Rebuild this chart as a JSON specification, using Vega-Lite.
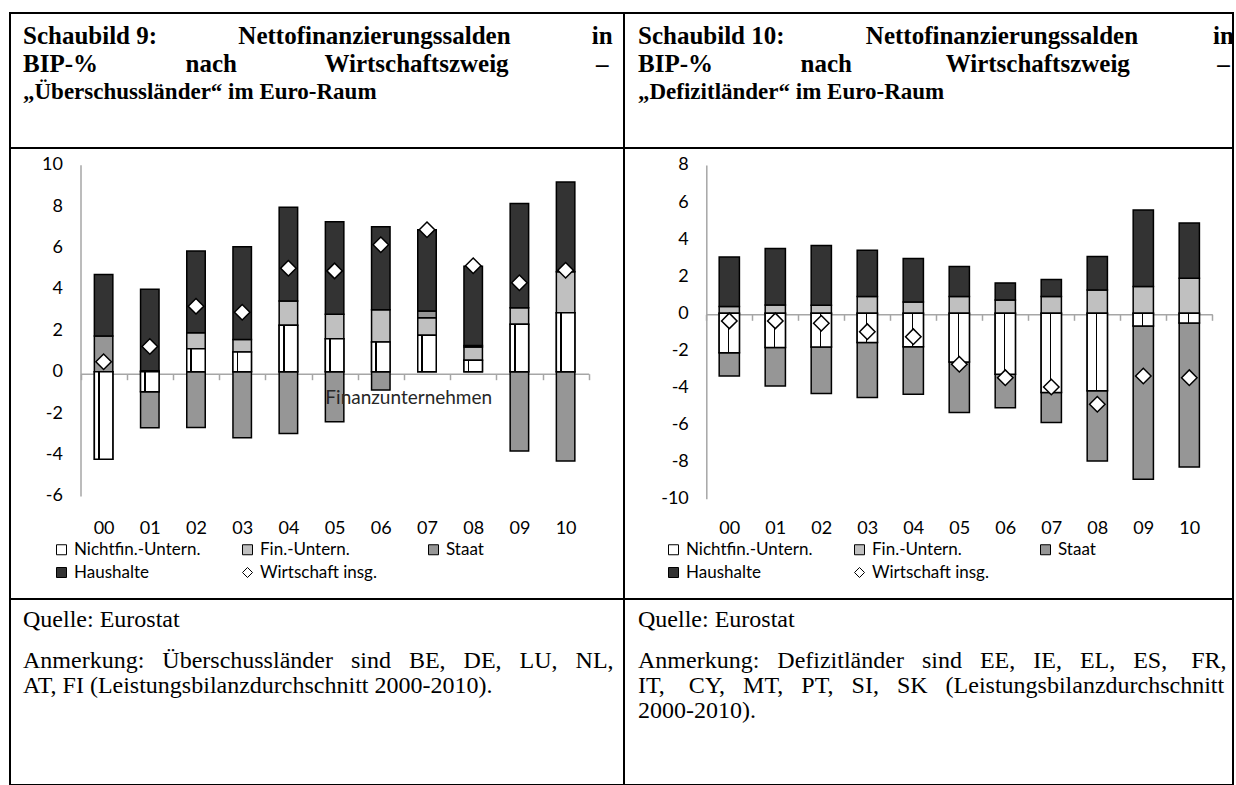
{
  "$schema": "https://vega.github.io/schema/vega-lite/v6.json",
  "background": "#ffffff",
  "padding": {"left": 9, "top": 12, "right": 3, "bottom": 0},
  "columns": 2,
  "spacing": 0,
  "bounds": "flush",
  "resolve": {"scale": {"color": "independent"}, "legend": {"color": "independent"}},
  "config": {
    "view": {"stroke": "#000000", "strokeWidth": 2},
    "concat": {"spacing": 0},
    "font": "Lato"
  },
  "concat": [
    {
      "width": 614,
      "height": 135,
      "data": {"values": [
        {"line": "1", "text": "Schaubild 9:\u00a0\u00a0\u00a0\u00a0\u00a0\u00a0\u00a0\u00a0\u00a0\u00a0\u00a0\u00a0\u00a0Nettofinanzierungssalden\u00a0\u00a0\u00a0\u00a0\u00a0\u00a0\u00a0\u00a0\u00a0\u00a0\u00a0\u00a0\u00a0in"},
        {"line": "2", "text": "BIP-%\u00a0\u00a0\u00a0\u00a0\u00a0\u00a0\u00a0\u00a0\u00a0\u00a0\u00a0\u00a0\u00a0\u00a0nach\u00a0\u00a0\u00a0\u00a0\u00a0\u00a0\u00a0\u00a0\u00a0\u00a0\u00a0\u00a0\u00a0\u00a0Wirtschaftszweig\u00a0\u00a0\u00a0\u00a0\u00a0\u00a0\u00a0\u00a0\u00a0\u00a0\u00a0\u00a0\u00a0\u00a0–"},
        {"line": "3", "text": "„Überschussländer“ im Euro-Raum"}
      ]},
      "encoding": {
        "x": {"datum": 0, "type": "quantitative", "scale": {"domain": [0, 1]}, "axis": null},
        "y": {"field": "line", "type": "ordinal", "scale": {"type": "point", "domain": ["1", "2", "3"], "range": [31, 86], "padding": 0}, "axis": null},
        "text": {"field": "text"}
      },
      "layer": [
        {
          "transform": [{"filter": "datum.line !== '3'"}],
          "mark": {"type": "text", "align": "left", "baseline": "alphabetic", "font": "Liberation Serif", "fontWeight": "bold", "fontSize": 25, "color": "#000000", "dx": 13}
        },
        {
          "transform": [{"filter": "datum.line === '3'"}],
          "mark": {"type": "text", "align": "left", "baseline": "alphabetic", "font": "Liberation Serif", "fontWeight": "bold", "fontSize": 23, "color": "#000000", "dx": 13}
        }
      ]
    },
    {
      "width": 609,
      "height": 135,
      "data": {"values": [
        {"line": "1", "text": "Schaubild 10:\u00a0\u00a0\u00a0\u00a0\u00a0\u00a0\u00a0\u00a0\u00a0\u00a0\u00a0\u00a0\u00a0Nettofinanzierungssalden\u00a0\u00a0\u00a0\u00a0\u00a0\u00a0\u00a0\u00a0\u00a0\u00a0\u00a0\u00a0in"},
        {"line": "2", "text": "BIP-%\u00a0\u00a0\u00a0\u00a0\u00a0\u00a0\u00a0\u00a0\u00a0\u00a0\u00a0\u00a0\u00a0\u00a0nach\u00a0\u00a0\u00a0\u00a0\u00a0\u00a0\u00a0\u00a0\u00a0\u00a0\u00a0\u00a0\u00a0\u00a0\u00a0Wirtschaftszweig\u00a0\u00a0\u00a0\u00a0\u00a0\u00a0\u00a0\u00a0\u00a0\u00a0\u00a0\u00a0\u00a0\u00a0–"},
        {"line": "3", "text": "„Defizitländer“ im Euro-Raum"}
      ]},
      "encoding": {
        "x": {"datum": 0, "type": "quantitative", "scale": {"domain": [0, 1]}, "axis": null},
        "y": {"field": "line", "type": "ordinal", "scale": {"type": "point", "domain": ["1", "2", "3"], "range": [31, 86], "padding": 0}, "axis": null},
        "text": {"field": "text"}
      },
      "layer": [
        {
          "transform": [{"filter": "datum.line !== '3'"}],
          "mark": {"type": "text", "align": "left", "baseline": "alphabetic", "font": "Liberation Serif", "fontWeight": "bold", "fontSize": 25, "color": "#000000", "dx": 14}
        },
        {
          "transform": [{"filter": "datum.line === '3'"}],
          "mark": {"type": "text", "align": "left", "baseline": "alphabetic", "font": "Liberation Serif", "fontWeight": "bold", "fontSize": 23, "color": "#000000", "dx": 14}
        }
      ]
    },
    {
      "width": 614,
      "height": 451,
      "data": {"values": [
        {"year": "00", "series": "Nichtfin.-Untern.", "value": -4.23},
        {"year": "00", "series": "Staat", "value": 1.72},
        {"year": "00", "series": "Haushalte", "value": 2.98},
        {"year": "00", "series": "Wirtschaft insg.", "value": 0.48},
        {"year": "01", "series": "Nichtfin.-Untern.", "value": -0.97},
        {"year": "01", "series": "Fin.-Untern.", "value": 0.05},
        {"year": "01", "series": "Staat", "value": -1.74},
        {"year": "01", "series": "Haushalte", "value": 3.93},
        {"year": "01", "series": "Wirtschaft insg.", "value": 1.22},
        {"year": "02", "series": "Nichtfin.-Untern.", "value": 1.11},
        {"year": "02", "series": "Fin.-Untern.", "value": 0.77},
        {"year": "02", "series": "Staat", "value": -2.70},
        {"year": "02", "series": "Haushalte", "value": 3.95},
        {"year": "02", "series": "Wirtschaft insg.", "value": 3.16},
        {"year": "03", "series": "Nichtfin.-Untern.", "value": 0.95},
        {"year": "03", "series": "Fin.-Untern.", "value": 0.61},
        {"year": "03", "series": "Staat", "value": -3.19},
        {"year": "03", "series": "Haushalte", "value": 4.48},
        {"year": "03", "series": "Wirtschaft insg.", "value": 2.87},
        {"year": "04", "series": "Nichtfin.-Untern.", "value": 2.25},
        {"year": "04", "series": "Fin.-Untern.", "value": 1.16},
        {"year": "04", "series": "Staat", "value": -2.98},
        {"year": "04", "series": "Haushalte", "value": 4.54},
        {"year": "04", "series": "Wirtschaft insg.", "value": 5.00},
        {"year": "05", "series": "Nichtfin.-Untern.", "value": 1.59},
        {"year": "05", "series": "Fin.-Untern.", "value": 1.18},
        {"year": "05", "series": "Staat", "value": -2.42},
        {"year": "05", "series": "Haushalte", "value": 4.48},
        {"year": "05", "series": "Wirtschaft insg.", "value": 4.87},
        {"year": "06", "series": "Nichtfin.-Untern.", "value": 1.43},
        {"year": "06", "series": "Fin.-Untern.", "value": 1.56},
        {"year": "06", "series": "Staat", "value": -0.89},
        {"year": "06", "series": "Haushalte", "value": 4.01},
        {"year": "06", "series": "Wirtschaft insg.", "value": 6.13},
        {"year": "07", "series": "Nichtfin.-Untern.", "value": 1.76},
        {"year": "07", "series": "Fin.-Untern.", "value": 0.85},
        {"year": "07", "series": "Staat", "value": 0.32},
        {"year": "07", "series": "Haushalte", "value": 3.93},
        {"year": "07", "series": "Wirtschaft insg.", "value": 6.86},
        {"year": "08", "series": "Nichtfin.-Untern.", "value": 0.55},
        {"year": "08", "series": "Fin.-Untern.", "value": 0.64},
        {"year": "08", "series": "Staat", "value": 0.08},
        {"year": "08", "series": "Haushalte", "value": 3.83},
        {"year": "08", "series": "Wirtschaft insg.", "value": 5.12},
        {"year": "09", "series": "Nichtfin.-Untern.", "value": 2.29},
        {"year": "09", "series": "Fin.-Untern.", "value": 0.80},
        {"year": "09", "series": "Staat", "value": -3.83},
        {"year": "09", "series": "Haushalte", "value": 5.04},
        {"year": "09", "series": "Wirtschaft insg.", "value": 4.30},
        {"year": "10", "series": "Nichtfin.-Untern.", "value": 2.85},
        {"year": "10", "series": "Fin.-Untern.", "value": 1.98},
        {"year": "10", "series": "Staat", "value": -4.32},
        {"year": "10", "series": "Haushalte", "value": 4.33},
        {"year": "10", "series": "Wirtschaft insg.", "value": 4.90}
      ]},
      "layer": [
        {
          "transform": [
            {"filter": "datum.series !== 'Wirtschaft insg.'"},
            {"calculate": "indexof(['Nichtfin.-Untern.', 'Fin.-Untern.', 'Staat', 'Haushalte'], datum.series)", "as": "ord"}
          ],
          "mark": {"type": "bar", "width": {"band": 0.4}, "stroke": "#000000", "strokeWidth": 1.5},
          "encoding": {
            "x": {
              "field": "year", "type": "ordinal",
              "scale": {"domain": ["00", "01", "02", "03", "04", "05", "06", "07", "08", "09", "10"], "range": [70.5, 578.7], "paddingInner": 0, "paddingOuter": 0},
              "axis": {"orient": "bottom", "offset": -225.3, "title": null, "labelAngle": 0, "tickBand": "extent", "tickSize": 6, "tickColor": "#a6a6a6", "tickWidth": 1.5, "domainColor": "#a6a6a6", "domainWidth": 1.5, "labelPadding": 140, "labelFont": "Lato", "labelFontSize": 18, "labelColor": "#000000", "labelFlush": false, "labelOverlap": false, "grid": false}
            },
            "y": {
              "field": "value", "type": "quantitative", "stack": "zero",
              "scale": {"domain": [-6, 10], "range": [347.9, 16.7], "nice": false, "zero": false},
              "axis": {"orient": "left", "offset": -70.5, "title": null, "values": [-6, -4, -2, 0, 2, 4, 6, 8, 10], "labelExpr": "datum.value < 0 ? '-' + abs(datum.value) : '' + datum.value", "ticks": false, "tickSize": 0, "labelPadding": 18, "domainColor": "#a6a6a6", "domainWidth": 1.5, "grid": false, "labelFont": "Lato", "labelFontSize": 18, "labelColor": "#000000", "labelOverlap": false, "labelFlush": false}
            },
            "color": {
              "field": "series", "type": "nominal",
              "scale": {"domain": ["Nichtfin.-Untern.", "Fin.-Untern.", "Staat", "Haushalte", "Wirtschaft insg."], "range": ["#ffffff", "#c0c0c0", "#969696", "#333333", "#ffffff"]},
              "legend": {
                "orient": "none", "legendX": 43, "legendY": 393, "direction": "horizontal", "columns": 3, "gridAlign": "all", "title": null, "padding": 0,
                "symbolType": "square", "symbolSize": 100, "symbolStrokeColor": "#000000", "symbolStrokeWidth": 1,
                "labelFont": "Lato", "labelFontSize": 17, "labelColor": "#000000", "labelOffset": 4, "columnPadding": 38, "rowPadding": 5, "labelLimit": 250,
                "encode": {"symbols": {"update": {"shape": {"signal": "datum.value === 'Wirtschaft insg.' ? 'diamond' : 'square'"}, "stroke": {"value": "#000000"}, "strokeWidth": {"value": 1}}}}
              }
            },
            "order": {"field": "ord", "type": "quantitative"}
          }
        },
        {
          "transform": [{"filter": "datum.series === 'Nichtfin.-Untern.'"}],
          "mark": {
            "type": "bar", "width": {"band": 0.4}, "stroke": "#000000", "strokeWidth": 1.5,
            "fill": {"gradient": "linear", "x1": 0, "y1": 0, "x2": 1, "y2": 0, "stops": [
              {"offset": 0, "color": "#ffffff"}, {"offset": 0.2, "color": "#ffffff"},
              {"offset": 0.2, "color": "#000000"}, {"offset": 0.29, "color": "#000000"},
              {"offset": 0.29, "color": "#ffffff"}, {"offset": 1, "color": "#ffffff"}
            ]}
          },
          "encoding": {
            "x": {"field": "year", "type": "ordinal"},
            "y": {"field": "value", "type": "quantitative", "stack": null},
            "y2": {"datum": 0}
          }
        },
        {
          "transform": [{"filter": "datum.series === 'Wirtschaft insg.'"}],
          "mark": {"type": "point", "shape": "diamond", "filled": true, "size": 240, "stroke": "#000000", "strokeWidth": 1.5, "opacity": 1},
          "encoding": {
            "x": {"field": "year", "type": "ordinal"},
            "y": {"field": "value", "type": "quantitative"},
            "color": {"field": "series", "type": "nominal"}
          }
        },
        {
          "data": {"values": [{"label": "Finanzunternehmen"}]},
          "mark": {"type": "text", "align": "left", "baseline": "middle", "font": "Lato", "fontSize": 19, "color": "#262626"},
          "encoding": {
            "x": {"datum": "05", "type": "ordinal", "bandPosition": 0.3},
            "y": {"datum": -1.27, "type": "quantitative"},
            "text": {"field": "label"}
          }
        }
      ]
    },
    {
      "width": 609,
      "height": 451,
      "data": {"values": [
        {"year": "00", "series": "Nichtfin.-Untern.", "value": -2.12},
        {"year": "00", "series": "Fin.-Untern.", "value": 0.36},
        {"year": "00", "series": "Staat", "value": -1.26},
        {"year": "00", "series": "Haushalte", "value": 2.68},
        {"year": "00", "series": "Wirtschaft insg.", "value": -0.41},
        {"year": "01", "series": "Nichtfin.-Untern.", "value": -1.85},
        {"year": "01", "series": "Fin.-Untern.", "value": 0.45},
        {"year": "01", "series": "Staat", "value": -2.07},
        {"year": "01", "series": "Haushalte", "value": 3.04},
        {"year": "01", "series": "Wirtschaft insg.", "value": -0.41},
        {"year": "02", "series": "Nichtfin.-Untern.", "value": -1.82},
        {"year": "02", "series": "Fin.-Untern.", "value": 0.43},
        {"year": "02", "series": "Staat", "value": -2.50},
        {"year": "02", "series": "Haushalte", "value": 3.23},
        {"year": "02", "series": "Wirtschaft insg.", "value": -0.54},
        {"year": "03", "series": "Nichtfin.-Untern.", "value": -1.58},
        {"year": "03", "series": "Fin.-Untern.", "value": 0.90},
        {"year": "03", "series": "Staat", "value": -2.96},
        {"year": "03", "series": "Haushalte", "value": 2.50},
        {"year": "03", "series": "Wirtschaft insg.", "value": -0.99},
        {"year": "04", "series": "Nichtfin.-Untern.", "value": -1.80},
        {"year": "04", "series": "Fin.-Untern.", "value": 0.61},
        {"year": "04", "series": "Staat", "value": -2.57},
        {"year": "04", "series": "Haushalte", "value": 2.35},
        {"year": "04", "series": "Wirtschaft insg.", "value": -1.26},
        {"year": "05", "series": "Nichtfin.-Untern.", "value": -2.62},
        {"year": "05", "series": "Fin.-Untern.", "value": 0.90},
        {"year": "05", "series": "Staat", "value": -2.73},
        {"year": "05", "series": "Haushalte", "value": 1.62},
        {"year": "05", "series": "Wirtschaft insg.", "value": -2.75},
        {"year": "06", "series": "Nichtfin.-Untern.", "value": -3.29},
        {"year": "06", "series": "Fin.-Untern.", "value": 0.72},
        {"year": "06", "series": "Staat", "value": -1.80},
        {"year": "06", "series": "Haushalte", "value": 0.92},
        {"year": "06", "series": "Wirtschaft insg.", "value": -3.47},
        {"year": "07", "series": "Nichtfin.-Untern.", "value": -4.27},
        {"year": "07", "series": "Fin.-Untern.", "value": 0.90},
        {"year": "07", "series": "Staat", "value": -1.62},
        {"year": "07", "series": "Haushalte", "value": 0.92},
        {"year": "07", "series": "Wirtschaft insg.", "value": -3.97},
        {"year": "08", "series": "Nichtfin.-Untern.", "value": -4.17},
        {"year": "08", "series": "Fin.-Untern.", "value": 1.26},
        {"year": "08", "series": "Staat", "value": -3.79},
        {"year": "08", "series": "Haushalte", "value": 1.80},
        {"year": "08", "series": "Wirtschaft insg.", "value": -4.90},
        {"year": "09", "series": "Nichtfin.-Untern.", "value": -0.68},
        {"year": "09", "series": "Fin.-Untern.", "value": 1.44},
        {"year": "09", "series": "Staat", "value": -8.27},
        {"year": "09", "series": "Haushalte", "value": 4.13},
        {"year": "09", "series": "Wirtschaft insg.", "value": -3.38},
        {"year": "10", "series": "Nichtfin.-Untern.", "value": -0.52},
        {"year": "10", "series": "Fin.-Untern.", "value": 1.89},
        {"year": "10", "series": "Staat", "value": -7.76},
        {"year": "10", "series": "Haushalte", "value": 2.98},
        {"year": "10", "series": "Wirtschaft insg.", "value": -3.47}
      ]},
      "layer": [
        {
          "transform": [
            {"filter": "datum.series !== 'Wirtschaft insg.'"},
            {"calculate": "indexof(['Nichtfin.-Untern.', 'Fin.-Untern.', 'Staat', 'Haushalte'], datum.series)", "as": "ord"}
          ],
          "mark": {"type": "bar", "width": {"band": 0.44}, "stroke": "#000000", "strokeWidth": 1.5},
          "encoding": {
            "x": {
              "field": "year", "type": "ordinal",
              "scale": {"domain": ["00", "01", "02", "03", "04", "05", "06", "07", "08", "09", "10"], "range": [82.3, 588.3], "paddingInner": 0, "paddingOuter": 0},
              "axis": {"orient": "bottom", "offset": -284.7, "title": null, "labelAngle": 0, "tickBand": "extent", "tickSize": 6, "tickColor": "#a6a6a6", "tickWidth": 1.5, "domainColor": "#a6a6a6", "domainWidth": 1.5, "labelPadding": 198.7, "labelFont": "Lato", "labelFontSize": 18, "labelColor": "#000000", "labelFlush": false, "labelOverlap": false, "grid": false}
            },
            "y": {
              "field": "value", "type": "quantitative", "stack": "zero",
              "scale": {"domain": [-10, 8], "range": [350.8, 16.9], "nice": false, "zero": false},
              "axis": {"orient": "left", "offset": -82.3, "title": null, "values": [-10, -8, -6, -4, -2, 0, 2, 4, 6, 8], "labelExpr": "datum.value < 0 ? '-' + abs(datum.value) : '' + datum.value", "ticks": false, "tickSize": 0, "labelPadding": 18, "domainColor": "#a6a6a6", "domainWidth": 1.5, "grid": false, "labelFont": "Lato", "labelFontSize": 18, "labelColor": "#000000", "labelOverlap": false, "labelFlush": false}
            },
            "color": {
              "field": "series", "type": "nominal",
              "scale": {"domain": ["Nichtfin.-Untern.", "Fin.-Untern.", "Staat", "Haushalte", "Wirtschaft insg."], "range": ["#ffffff", "#c0c0c0", "#969696", "#333333", "#ffffff"]},
              "legend": {
                "orient": "none", "legendX": 41, "legendY": 393, "direction": "horizontal", "columns": 3, "gridAlign": "all", "title": null, "padding": 0,
                "symbolType": "square", "symbolSize": 100, "symbolStrokeColor": "#000000", "symbolStrokeWidth": 1,
                "labelFont": "Lato", "labelFontSize": 17, "labelColor": "#000000", "labelOffset": 4, "columnPadding": 38, "rowPadding": 5, "labelLimit": 250,
                "encode": {"symbols": {"update": {"shape": {"signal": "datum.value === 'Wirtschaft insg.' ? 'diamond' : 'square'"}, "stroke": {"value": "#000000"}, "strokeWidth": {"value": 1}}}}
              }
            },
            "order": {"field": "ord", "type": "quantitative"}
          }
        },
        {
          "transform": [{"filter": "datum.series === 'Nichtfin.-Untern.'"}],
          "mark": {
            "type": "bar", "width": {"band": 0.44}, "stroke": "#000000", "strokeWidth": 1.5,
            "fill": {"gradient": "linear", "x1": 0, "y1": 0, "x2": 1, "y2": 0, "stops": [
              {"offset": 0, "color": "#ffffff"}, {"offset": 0.42, "color": "#ffffff"},
              {"offset": 0.42, "color": "#000000"}, {"offset": 0.5, "color": "#000000"},
              {"offset": 0.5, "color": "#ffffff"}, {"offset": 1, "color": "#ffffff"}
            ]}
          },
          "encoding": {
            "x": {"field": "year", "type": "ordinal"},
            "y": {"field": "value", "type": "quantitative", "stack": null},
            "y2": {"datum": 0}
          }
        },
        {
          "transform": [{"filter": "datum.series === 'Wirtschaft insg.'"}],
          "mark": {"type": "point", "shape": "diamond", "filled": true, "size": 240, "stroke": "#000000", "strokeWidth": 1.5, "opacity": 1},
          "encoding": {
            "x": {"field": "year", "type": "ordinal"},
            "y": {"field": "value", "type": "quantitative"},
            "color": {"field": "series", "type": "nominal"}
          }
        }
      ]
    },
    {
      "width": 614,
      "height": 186,
      "data": {"values": [
        {"para": "q", "text": "Quelle: Eurostat"},
        {"para": "a", "text": ["Anmerkung:\u00a0\u00a0\u00a0Überschussländer\u00a0\u00a0\u00a0sind\u00a0\u00a0\u00a0BE,\u00a0\u00a0\u00a0DE,\u00a0\u00a0\u00a0LU,\u00a0\u00a0\u00a0NL,", "AT, FI (Leistungsbilanzdurchschnitt 2000-2010)."]}
      ]},
      "mark": {"type": "text", "align": "left", "baseline": "alphabetic", "font": "Liberation Serif", "fontSize": 24, "lineHeight": 25, "color": "#000000", "dx": 13},
      "encoding": {
        "x": {"datum": 0, "type": "quantitative", "scale": {"domain": [0, 1]}, "axis": null},
        "y": {"field": "para", "type": "nominal", "scale": {"type": "point", "domain": ["q", "a"], "range": [28, 69], "padding": 0}, "axis": null},
        "text": {"field": "text"}
      }
    },
    {
      "width": 609,
      "height": 186,
      "data": {"values": [
        {"para": "q", "text": "Quelle: Eurostat"},
        {"para": "a", "text": ["Anmerkung:\u00a0\u00a0\u00a0Defizitländer\u00a0\u00a0\u00a0sind\u00a0\u00a0\u00a0EE,\u00a0\u00a0\u00a0IE,\u00a0\u00a0\u00a0EL,\u00a0\u00a0\u00a0ES,\u00a0\u00a0\u00a0\u00a0FR,", "IT,\u00a0\u00a0\u00a0\u00a0CY,\u00a0\u00a0\u00a0MT,\u00a0\u00a0\u00a0PT,\u00a0\u00a0\u00a0SI,\u00a0\u00a0\u00a0SK\u00a0\u00a0\u00a0(Leistungsbilanzdurchschnitt", "2000-2010)."]}
      ]},
      "mark": {"type": "text", "align": "left", "baseline": "alphabetic", "font": "Liberation Serif", "fontSize": 24, "lineHeight": 25, "color": "#000000", "dx": 14},
      "encoding": {
        "x": {"datum": 0, "type": "quantitative", "scale": {"domain": [0, 1]}, "axis": null},
        "y": {"field": "para", "type": "nominal", "scale": {"type": "point", "domain": ["q", "a"], "range": [28, 69], "padding": 0}, "axis": null},
        "text": {"field": "text"}
      }
    }
  ]
}
